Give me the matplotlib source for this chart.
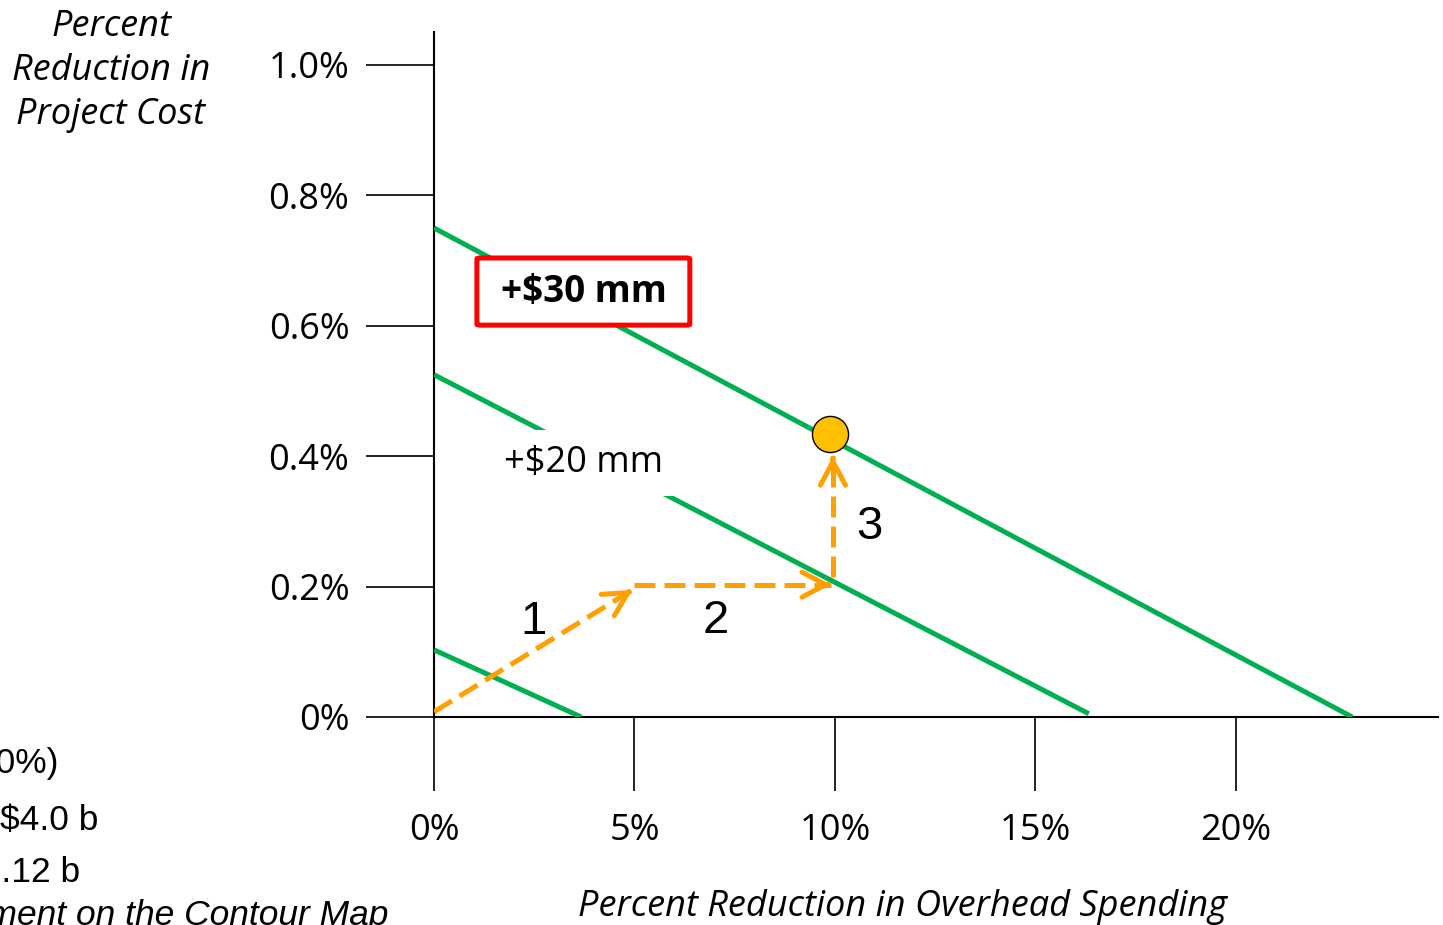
import matplotlib.pyplot as plt
from matplotlib.patches import FancyBboxPatch

# overhead reduction (%) on x, project cost reduction (%) on y
x_ticks = [0, 5, 10, 15, 20]
x_labels = ['0%', '5%', '10%', '15%', '20%']
y_ticks = [0, 0.2, 0.4, 0.6, 0.8, 1.0]
y_labels = ['0%', '0.2%', '0.4%', '0.6%', '0.8%', '1.0%']

# contour lines of equal savings: (x0, y0) -> (x1, y1)
contour_x = [[0, 3.67], [0, 16.33], [0, 22.9]]
contour_y = [[0.103, 0.0], [0.525, 0.005], [0.75, 0.0]]

# path of moves on the map
step1_x, step1_y = [0, 4.95], [0.008, 0.195]
step2_x, step2_y = [5.0, 9.9], [0.203, 0.203]
step3_x, step3_y = [9.95, 9.95], [0.215, 0.40]
target_x, target_y = 9.88, 0.434

green = '#00B050'
orange = '#FFA000'

fig = plt.figure(figsize=(14.43, 9.25), dpi=100, facecolor='white')
ax = fig.add_axes([434 / 1443, 208 / 925, 1004 / 1443, 685 / 925])
ax.set_xlim(0, 25.04)
ax.set_ylim(0, 1.0506)

for spine in ['top', 'right']:
    ax.spines[spine].set_visible(False)
for spine in ['left', 'bottom']:
    ax.spines[spine].set_linewidth(1.5)
    ax.spines[spine].set_zorder(1)

ax.set_xticks(x_ticks)
ax.set_xticklabels(x_labels, family='Open Sans', fontsize=26)
ax.set_yticks(y_ticks)
ax.set_yticklabels(y_labels, family='Open Sans', fontsize=26)
ax.tick_params(axis='y', direction='out', length=49, width=1.2, pad=12)
ax.tick_params(axis='x', direction='out', length=53, width=1.2, pad=16)

for cx, cy in zip(contour_x, contour_y):
    ax.plot(cx, cy, color=green, lw=3.6, solid_capstyle='butt', zorder=2)

# dashed moves with open arrow heads
for sx, sy in [(step1_x, step1_y), (step2_x, step2_y), (step3_x, step3_y)]:
    ax.plot(sx, sy, color=orange, lw=3.6, dashes=(4.2, 1.8), zorder=3)
    dx = (sx[1] - sx[0]) * 0.02
    dy = (sy[1] - sy[0]) * 0.02
    ax.annotate('', xy=(sx[1], sy[1]), xytext=(sx[1] - dx, sy[1] - dy),
                arrowprops=dict(arrowstyle='->,head_length=1.7,head_width=0.9',
                                mutation_scale=10, color=orange, lw=3.6,
                                capstyle='round', joinstyle='round',
                                shrinkA=0, shrinkB=0), zorder=3)

ax.plot(target_x, target_y, 'o', ms=26, mfc='#FFC000', mec='black', mew=1.0, zorder=5)

for label, lx, ly in [('1', 2.47, 0.146), ('2', 7.03, 0.147), ('3', 10.87, 0.291)]:
    ax.text(lx, ly, label, family='Liberation Sans', fontsize=34,
            ha='center', va='center', zorder=4)

ax.text(3.72, 0.39, '+$20 mm', family='Open Sans', fontsize=26, ha='center', va='center',
        bbox=dict(facecolor='white', edgecolor='none', pad=11), zorder=4)

# red framed label on the top contour
ax.add_patch(FancyBboxPatch((1.07, 0.601), 5.31, 0.103, boxstyle='round,pad=0,rounding_size=0.08',
                            facecolor='white', edgecolor='#FF0000', lw=3.6, zorder=4,
                            mutation_aspect=0.02))
ax.text(3.74, 0.652, '+$30 mm', family='Open Sans', fontsize=26.5, fontweight='bold',
        ha='center', va='center', zorder=5)

fig.text(111 / 1443, 1 - 71 / 925, 'Percent\nReduction in\nProject Cost', family='Open Sans',
         style='italic', fontsize=26, ha='center', va='center', linespacing=1.3)
fig.text(902 / 1443, 1 - 907 / 925, 'Percent Reduction in Overhead Spending', family='Open Sans',
         style='italic', fontsize=26, ha='center', va='center')

# notes running off the left edge
fig.text(59 / 1443, 1 - 763 / 925, '(10%)', family='Liberation Sans', fontsize=25.5,
         ha='right', va='center')
fig.text(98 / 1443, 1 - 820 / 925, '$4.0 b', family='Liberation Sans', fontsize=25.5,
         ha='right', va='center')
fig.text(80 / 1443, 1 - 872 / 925, '$0.12 b', family='Liberation Sans', fontsize=25.5,
         ha='right', va='center')
fig.text(388 / 1443, 1 - 916 / 925, 'Movement on the Contour Map', family='Liberation Sans',
         style='italic', fontsize=25.5, ha='right', va='center')

fig.savefig('out.png', dpi=100, facecolor='white')
